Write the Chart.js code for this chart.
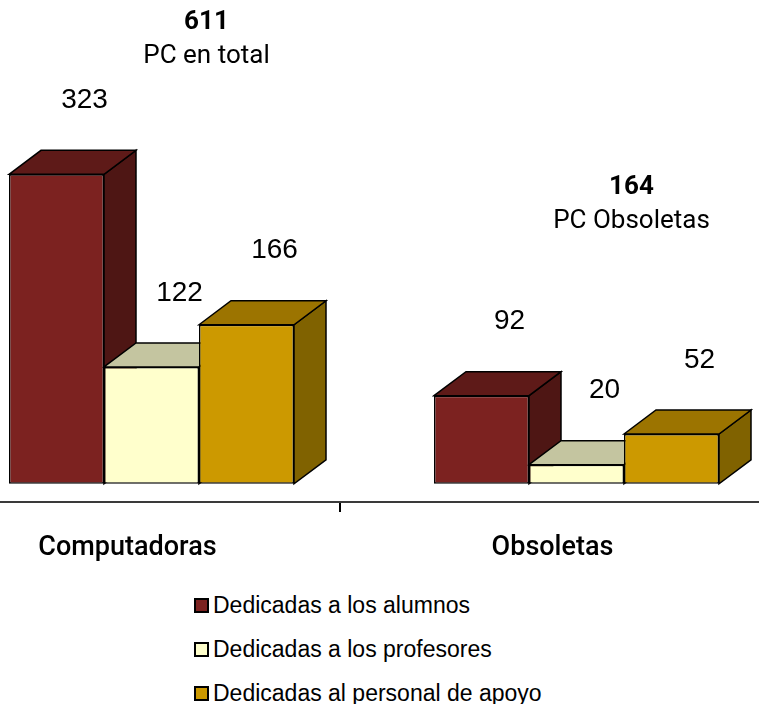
<!DOCTYPE html>
<html><head><meta charset="utf-8">
<script src="https://cdn.jsdelivr.net/npm/chart.js@4.4.1/dist/chart.umd.min.js"></script>
<style>
html,body{margin:0;padding:0;background:#fff;overflow:hidden;width:759px;height:704px;position:relative;}
#wrap{position:absolute;left:-61px;top:0;width:850px;height:562px;}
.note{position:absolute;width:240px;text-align:center;font-family:Roboto,sans-serif;color:#000;}
.note b{display:block;font-weight:700;font-size:26px;line-height:34px;}
.note span{display:block;font-weight:400;font-size:26px;line-height:34px;}
#legend{position:absolute;left:194px;top:583px;font-family:"Liberation Sans",Arial,sans-serif;font-size:23px;color:#000;}
.li{display:flex;align-items:center;height:44px;white-space:nowrap;}
.sw{width:11px;height:11px;border:2px solid #000;margin-right:4px;flex:none;}
</style></head><body>
<div id="wrap"><canvas id="c" width="850" height="562"></canvas></div>
<div id="legend"></div>
<script>
// ---- data ----
const categories = ['Computadoras', 'Obsoletas'];
const seriesNames = ['Dedicadas a los alumnos', 'Dedicadas a los profesores', 'Dedicadas al personal de apoyo'];
const alumnos = [323, 92];
const profesores = [122, 20];
const apoyo = [166, 52];
const totalCaptions = ['PC en total', 'PC Obsoletas'];

// ---- styles ----
const frontColors = ['#7C2220', '#FFFFCC', '#CC9900'];
const topColors   = ['#5E1A18', '#C4C5A0', '#9C7400'];
const sideColors  = ['#4E1614', '#9E9E7E', '#806200'];
const DX = 32, DY = 24;
const LABEL_SHIFT = -24;

const seriesValues = [alumnos, profesores, apoyo];

const threeD = {
  id: 'threeD',
  beforeDatasetsDraw(chart) {
    const ctx = chart.ctx;
    chart.data.datasets.forEach((ds, i) => {
      const meta = chart.getDatasetMeta(i);
      meta.data.forEach(bar => {
        const p = bar.getProps(['x', 'y', 'base', 'width'], true);
        const l = p.x - p.width / 2, r = p.x + p.width / 2, t = p.y, b = p.base;
        ctx.save();
        ctx.lineWidth = 1.5; ctx.strokeStyle = '#000'; ctx.lineJoin = 'miter';
        ctx.beginPath();
        ctx.moveTo(r, t); ctx.lineTo(r + DX, t - DY); ctx.lineTo(r + DX, b - DY); ctx.lineTo(r, b); ctx.closePath();
        ctx.fillStyle = sideColors[i]; ctx.fill(); ctx.stroke();
        ctx.beginPath();
        ctx.moveTo(l, t); ctx.lineTo(l + DX, t - DY); ctx.lineTo(r + DX, t - DY); ctx.lineTo(r, t); ctx.closePath();
        ctx.fillStyle = topColors[i]; ctx.fill(); ctx.stroke();
        ctx.restore();
      });
    });
  },
  afterDatasetsDraw(chart) {
    const ctx = chart.ctx;
    ctx.save();
    ctx.font = '28px "Liberation Sans", Arial, sans-serif';
    ctx.fillStyle = '#000'; ctx.textAlign = 'center'; ctx.textBaseline = 'middle';
    chart.data.datasets.forEach((ds, i) => {
      chart.getDatasetMeta(i).data.forEach((bar, j) => {
        const p = bar.getProps(['x', 'y'], true);
        ctx.fillText(String(ds.data[j]), p.x + 28, p.y - 74);
      });
    });
    ctx.restore();
  },
  afterDraw(chart) {
    const xs = chart.scales.x, ctx = chart.ctx;
    const mid = (xs.getPixelForValue(0) + xs.getPixelForValue(1)) / 2 + LABEL_SHIFT;
    ctx.save();
    ctx.strokeStyle = '#000'; ctx.lineWidth = 2;
    ctx.beginPath(); ctx.moveTo(mid, chart.chartArea.bottom + 1); ctx.lineTo(mid, chart.chartArea.bottom + 10); ctx.stroke();
    ctx.restore();
  }
};

const chart = new Chart(document.getElementById('c'), {
  type: 'bar',
  data: {
    labels: categories,
    datasets: seriesNames.map((name, i) => ({
      label: name,
      data: seriesValues[i],
      backgroundColor: frontColors[i],
      borderColor: '#000',
      borderWidth: 1.5,
      borderSkipped: false,
      categoryPercentage: 0.6706,
      barPercentage: 1
    }))
  },
  options: {
    responsive: false,
    animation: false,
    devicePixelRatio: 1,
    layout: { padding: 0 },
    plugins: { legend: { display: false }, tooltip: { enabled: false } },
    scales: {
      x: {
        type: 'category',
        offset: true,
        grid: { display: false, drawTicks: false },
        border: { display: true, color: '#3a3a3a', width: 2 },
        ticks: {
          color: '#000',
          font: { family: 'Roboto', size: 27, weight: '500' },
          padding: 30,
          labelOffset: LABEL_SHIFT,
          maxRotation: 0,
          autoSkip: false
        },
        afterFit(s) { s.height = 60; }
      },
      y: { display: false, min: -19, max: 505 }
    }
  },
  plugins: [threeD]
});

// totals annotations
const noteTops = [3, 168];
const wrapLeft = -61;
categories.forEach((c, j) => {
  const total = seriesValues.reduce((s, arr) => s + arr[j], 0);
  const cx = chart.scales.x.getPixelForValue(j) + wrapLeft + 55;
  const d = document.createElement('div');
  d.className = 'note';
  d.style.left = (cx - 120) + 'px';
  d.style.top = noteTops[j] + 'px';
  d.innerHTML = '<b>' + total + '</b><span>' + totalCaptions[j] + '</span>';
  document.body.appendChild(d);
});

// legend
const lg = document.getElementById('legend');
chart.data.datasets.forEach(ds => {
  const row = document.createElement('div');
  row.className = 'li';
  row.innerHTML = '<div class="sw" style="background:' + ds.backgroundColor + '"></div><div>' + ds.label + '</div>';
  lg.appendChild(row);
});
</script>
</body></html>
